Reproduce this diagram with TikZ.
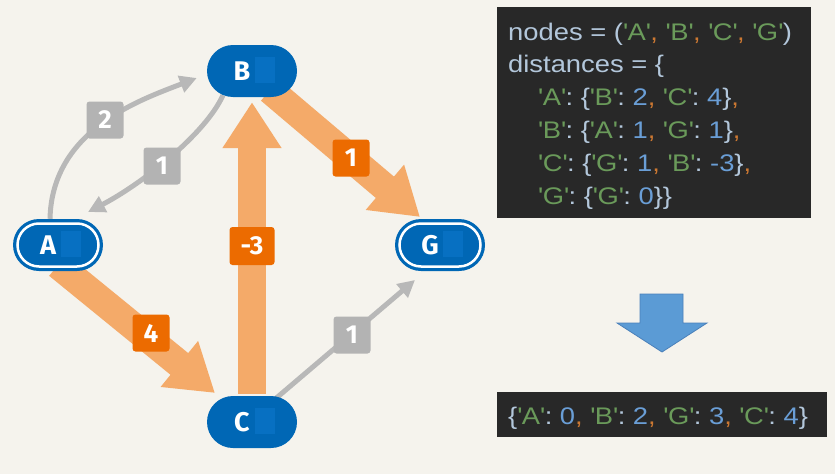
\documentclass[tikz,border=0pt]{standalone}
\usepackage{fontspec}
\setmainfont{Liberation Sans}
\newfontfamily\codefont{Liberation Sans}[FakeStretch=1.14]
\newfontfamily\labfont{Fira Sans}
\usetikzlibrary{arrows.meta,backgrounds}
\definecolor{bg}{HTML}{F5F3ED}
\definecolor{nodeblue}{HTML}{0067B5}
\definecolor{nodelight}{HTML}{0770C2}
\definecolor{edgegray}{HTML}{B8B8B8}
\definecolor{labgray}{HTML}{B3B3B3}
\definecolor{orangelight}{HTML}{F4AA69}
\definecolor{orangedark}{HTML}{EC6B00}
\definecolor{codebg}{HTML}{282828}
\definecolor{codefg}{HTML}{B3C7DB}
\definecolor{codestr}{HTML}{6A9A5A}
\definecolor{codenum}{HTML}{6A9ED6}
\definecolor{codecom}{HTML}{CC7832}
\definecolor{arrowblue}{HTML}{5B9BD5}
\definecolor{arrowedge}{HTML}{4A80BA}
\newcommand\qstr[1]{\textcolor{codestr}{\textquotesingle#1\textquotesingle}}
\newcommand\qnum[1]{\textcolor{codenum}{#1}}
\newcommand\qcom{\textcolor{codecom}{,}}
\begin{document}
\begin{tikzpicture}[x=1pt,y=-1pt,
  vert/.style={rectangle, rounded corners=26pt, fill=nodeblue, minimum width=90pt,
    minimum height=52pt, inner sep=0pt, text=white,
    font=\labfont\bfseries\fontsize{27}{27}\selectfont},
  ring/.style={white, line width=2.5pt, rounded corners=21.5pt},
  glab/.style={rectangle, rounded corners=3pt, fill=labgray, minimum width=37pt,
    minimum height=37pt, inner sep=0pt, text=white,
    font=\labfont\bfseries\fontsize{26}{26}\selectfont},
  olab/.style={glab, fill=orangedark},
  gedge/.style={draw=edgegray, line width=5pt, -{Triangle[length=17pt,width=17pt]}},
  oedge/.style={draw=orangelight, line width=28pt, -{Triangle[length=46pt,width=56pt]}},
  codeline/.style={anchor=base west, inner sep=0pt, text=codefg,
    font=\codefont\fontsize{24}{24}\selectfont},
  codebox/.style={fill=codebg, anchor=north west, inner sep=0pt}
]
\useasboundingbox (0,0) rectangle (835,474);

% graph nodes
\node[vert] (A) at (58,245) {A\kern20pt};
\node[vert] (B) at (252,71) {B\kern20pt};
\node[vert] (G) at (440,245) {G\kern20pt};
\node[vert] (C) at (252,422) {C\kern20pt};
\draw[ring] ([shift={(-40.5,-21.5)}]A.center) rectangle ([shift={(40.5,21.5)}]A.center);
\draw[ring] ([shift={(-40.5,-21.5)}]G.center) rectangle ([shift={(40.5,21.5)}]G.center);
\foreach \n in {A,B,G,C}{
  \fill[nodelight] ([shift={(3,-14)}]\n.center) rectangle ([shift={(23,12)}]\n.center);
}

% edges
\begin{scope}[on background layer]
  \fill[bg] (0,0) rectangle (835,474);
  \draw[gedge] ([xshift=-8pt]A.north) .. controls (52,130) and (140,100) .. ([shift={(-10,7)}]B.west);
  \draw[gedge] ([shift={(-29,-2)}]B.south) .. controls (205,135) and (140,185) .. ([shift={(30,-33)}]A.center);
  \draw[gedge] ([shift={(22,-22)}]C.center) -- ([shift={(-25,35)}]G.center);
  \draw[oedge] ([shift={(0,-2)}]C.north) -- ([shift={(0,5)}]B.south);
  \draw[oedge] ([shift={(18,19)}]B.center) -- ([shift={(-20,-28)}]G.center);
  \draw[oedge] ([shift={(0,20)}]A.center) -- ([shift={(-37,-29)}]C.center);
\end{scope}

% edge labels
\node[glab] (l2) at (105,120) {2};
\node[glab] (l1a) at (162,166) {1};
\node[olab] (l1b) at (351,158) {1};
\node[olab, minimum width=45pt, minimum height=38pt] (lm3) at (252,246) {-3};
\node[olab] (l4) at (151,333) {4};
\node[glab] (l1c) at (352,335) {1};

% code box
\node[codebox, minimum width=314pt, minimum height=211pt] (code) at (497,7) {};
\node[codeline] (c1) at (508,40) {nodes = (\qstr{A}\qcom{} \qstr{B}\qcom{} \qstr{C}\qcom{} \qstr{G})};
\node[codeline] (c2) at (508,72.8) {distances = \{};
\node[codeline] (c3) at (538,105.6) {\qstr{A}: \{\qstr{B}: \qnum{2}\qcom{} \qstr{C}: \qnum{4}\}\qcom};
\node[codeline] (c4) at (538,138.4) {\qstr{B}: \{\qstr{A}: \qnum{1}\qcom{} \qstr{G}: \qnum{1}\}\qcom};
\node[codeline] (c5) at (538,171.2) {\qstr{C}: \{\qstr{G}: \qnum{1}\qcom{} \qstr{B}: \qnum{-3}\}\qcom};
\node[codeline] (c6) at (538,204) {\qstr{G}: \{\qstr{G}: \qnum{0}\}\}};

% down arrow
\filldraw[fill=arrowblue, draw=arrowedge, line width=0.8pt]
  (640,294) -- (683,294) -- (683,323) -- (707,323) -- (662,352) -- (617,323) -- (640,323) -- cycle;

% result box
\node[codebox, minimum width=330pt, minimum height=45pt] (res) at (497,392) {};
\node[codeline] (r1) at (508,424) {\{\qstr{A}: \qnum{0}\qcom{} \qstr{B}: \qnum{2}\qcom{} \qstr{G}: \qnum{3}\qcom{} \qstr{C}: \qnum{4}\}};
\end{tikzpicture}
\end{document}
